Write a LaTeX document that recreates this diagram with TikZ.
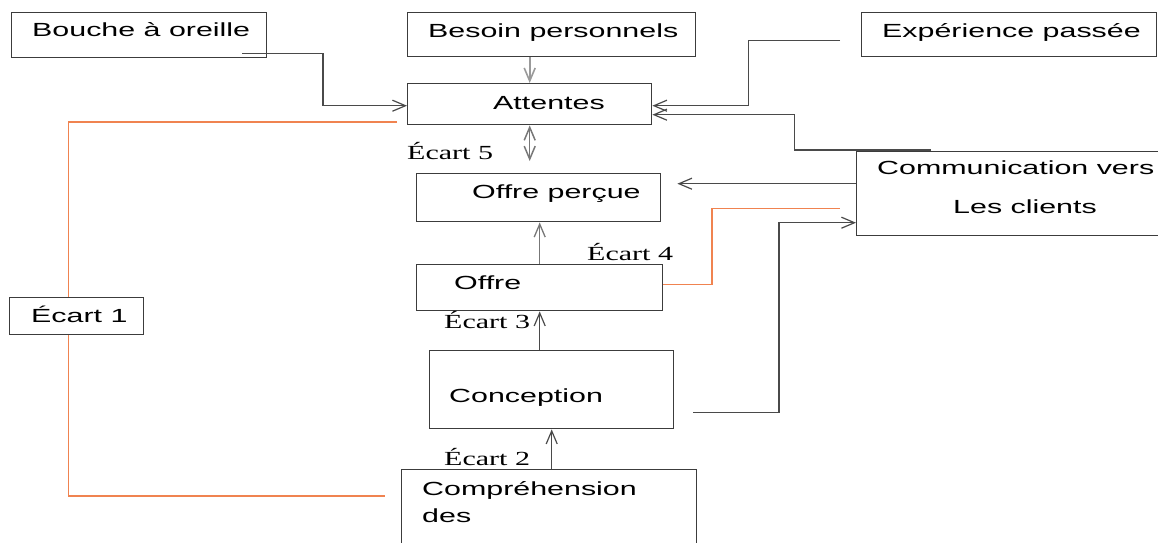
\documentclass[tikz,border=0pt]{standalone}
\usepackage{fontspec}
\setmainfont{Liberation Sans}[FakeStretch=1.6]
\newfontfamily\gapfont{Liberation Serif}[FakeStretch=1.5]
\usetikzlibrary{arrows.meta,calc,backgrounds}
\definecolor{boxgray}{HTML}{3C3C3C}
\definecolor{linegray}{HTML}{4A4A4A}
\definecolor{midgray}{HTML}{777777}
\definecolor{lightgray}{HTML}{9A9A9A}
\definecolor{gaporange}{HTML}{F08350}
\begin{document}
\begin{tikzpicture}[x=1pt,y=-1pt,
  box/.style={draw=boxgray, line width=1.4pt, inner sep=0pt, anchor=north west},
  txt/.style={anchor=base west, inner sep=0pt, font=\fontsize{19}{22}\selectfont},
  gap/.style={anchor=base west, inner sep=0pt, font=\gapfont\fontsize{20}{24}\selectfont},
  link/.style={draw=linegray, line width=1.2pt},
  gapline/.style={draw=gaporange, line width=1.3pt},
  tip/.style={-{Straight Barb[length=13pt,width=11pt]}},
  bitip/.style={{Straight Barb[length=13pt,width=11pt]}-{Straight Barb[length=13pt,width=11pt]}}]
\useasboundingbox (0,0) rectangle (1158,542);

% boxes
\node[box, minimum width=255pt, minimum height=45pt] (bouche) at (11,12) {};
\node[box, minimum width=288pt, minimum height=44pt] (besoin) at (407,12) {};
\node[box, minimum width=295pt, minimum height=44pt] (exper) at (861,12) {};
\node[box, minimum width=244pt, minimum height=41pt] (att) at (407,83) {};
\node[box, minimum width=244pt, minimum height=48pt] (percue) at (416,173) {};
\node[box, minimum width=320pt, minimum height=84pt] (comm) at (856,151) {};
\node[box, minimum width=246pt, minimum height=46pt] (offre) at (416,264) {};
\node[box, minimum width=244pt, minimum height=78pt] (concep) at (429,350) {};
\node[box, minimum width=295pt, minimum height=90pt] (compr) at (401,469) {};
\node[box, fill=white, minimum width=134pt, minimum height=37pt] (ecart1) at (9,297) {};

% box texts
\node[txt] (tbouche) at (32,36) {Bouche à oreille};
\node[txt] (tbesoin) at (428,37) {Besoin personnels};
\node[txt] (texper) at (882,37) {Expérience passée};
\node[txt] (tatt) at (493,109) {Attentes};
\node[txt] (tpercue) at (472,198) {Offre perçue};
\node[txt] (tcomm1) at (877,174) {Communication vers};
\node[txt] (tcomm2) at (953,213) {Les clients};
\node[txt] (toffre) at (454,289) {Offre};
\node[txt] (tconcep) at (449,402) {Conception};
\node[txt] (tcompr1) at (422,495) {Compréhension};
\node[txt] (tcompr2) at (422,522) {des};
\node[txt] (tecart1) at (31,322) {Écart 1};

% gap labels
\node[gap] (e5) at (407,159) {Écart 5};
\node[gap] (e4) at (587,260) {Écart 4};
\node[gap] (e3) at (444,328) {Écart 3};
\node[gap] (e2) at (444,465) {Écart 2};

% influences on expectations
\draw[link,tip] ($(bouche.south east)+(-25,-5)$) -| ($(att.west)+(-84,1.5)$) -- ($(att.west)+(0,1.5)$);
\draw[draw=lightgray, line width=1.6pt, tip] (besoin.south -| att.north) -- (att.north);
\draw[link,tip] ($(exper.west)+(-21,6)$) -| ($(att.east)+(96,1.5)$) -- ($(att.east)+(0,1.5)$);
\draw[link,tip] ($(comm.north west)+(75,-1)$) -| ($(att.east)+(142,10.5)$) -- ($(att.east)+(0,10.5)$);

% vertical chain
\draw[draw=midgray, line width=1.5pt, bitip] (att.south) -- ($(att.south |- percue.north)+(0,-12)$);
\draw[draw=midgray, line width=1.3pt, tip] (offre.north) -- (offre.north |- percue.south);
\draw[link,tip] (offre.south |- concep.north) -- (offre.south);
\draw[link,tip] (concep.south |- compr.north) -- (concep.south);

% communication links
\draw[link,tip] ($(comm.west)+(0,-10)$) -- ($(percue.east |- comm.west)+(16,-10)$);
\draw[link,tip] ($(concep.east)+(19,23)$) -| ($(comm.west)+(-77,29)$) -- ($(comm.west)+(0,29)$);

% gaps drawn as orange brackets
\draw[gapline] ($(offre.east)+(0,-3.5)$) -| ($(comm.west)+(-144,15)$) -- ($(comm.west)+(-16,15)$);
\begin{scope}[on background layer]
\draw[gapline] ($(att.south west)+(-10,-3.5)$) -| ($(ecart1.center)+(-8,0)$) |- ($(compr.north west)+(-16,27)$);
\end{scope}
\end{tikzpicture}
\end{document}
